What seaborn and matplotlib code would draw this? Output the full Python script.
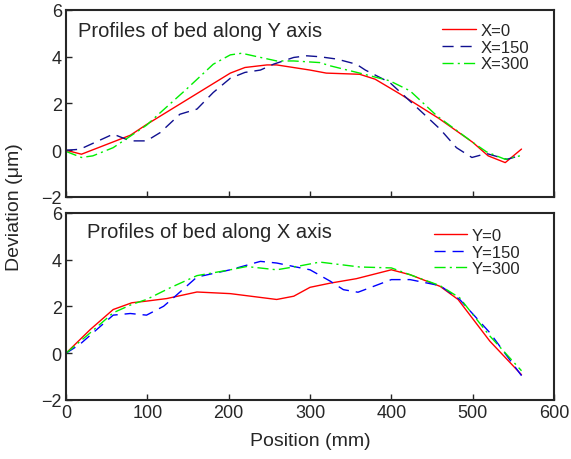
import matplotlib
matplotlib.use("Agg")
import matplotlib.pyplot as plt
import seaborn as sns

# Profiles along Y axis (top panel)
y_x0_pos = [0, 19, 79, 99, 202, 220, 247, 259, 300, 320, 361, 380, 411, 458, 500, 519, 540, 560]
y_x0_dev = [0, -0.17, 0.64, 1.1, 3.3, 3.54, 3.65, 3.65, 3.43, 3.3, 3.25, 3.04, 2.4, 1.37, 0.34, -0.24, -0.53, 0.05]

y_x150_pos = [0, 17, 58, 79, 99, 116, 140, 161, 181, 202, 220, 239, 255, 280, 296, 312, 333, 357, 368, 398, 427, 460, 480, 499, 517, 542, 560]
y_x150_dev = [0, 0.04, 0.69, 0.4, 0.4, 0.76, 1.54, 1.76, 2.47, 3.08, 3.33, 3.43, 3.68, 3.97, 4.04, 4.0, 3.9, 3.68, 3.43, 2.9, 1.97, 0.9, 0.11, -0.31, -0.14, -0.39, -0.21]

y_x300_pos = [0, 19, 33, 58, 79, 99, 116, 148, 181, 202, 216, 234, 259, 280, 312, 325, 361, 398, 423, 456, 500, 517, 540, 558]
y_x300_dev = [-0.05, -0.31, -0.24, 0.11, 0.6, 1.07, 1.61, 2.61, 3.68, 4.08, 4.15, 4.01, 3.82, 3.82, 3.75, 3.61, 3.3, 2.97, 2.54, 1.47, 0.34, -0.07, -0.39, -0.24]

# Profiles along X axis (bottom panel)
x_y0_pos = [0, 30, 58, 81, 99, 124, 161, 202, 259, 280, 300, 325, 357, 400, 423, 460, 482, 521, 560]
x_y0_dev = [0, 1.02, 1.87, 2.16, 2.23, 2.34, 2.62, 2.55, 2.3, 2.44, 2.82, 3.0, 3.19, 3.57, 3.36, 2.86, 2.3, 0.52, -0.92]

x_y150_pos = [0, 17, 58, 79, 99, 120, 132, 161, 202, 239, 259, 280, 300, 325, 341, 359, 400, 423, 460, 484, 521, 560]
x_y150_dev = [0, 0.38, 1.63, 1.7, 1.63, 2.01, 2.37, 3.26, 3.57, 3.93, 3.86, 3.71, 3.57, 3.08, 2.72, 2.61, 3.15, 3.15, 2.89, 2.3, 0.88, -0.96]

x_y300_pos = [0, 30, 58, 81, 99, 128, 161, 202, 222, 259, 288, 312, 361, 400, 460, 484, 521, 560]
x_y300_dev = [0, 0.88, 1.73, 2.09, 2.3, 2.8, 3.32, 3.57, 3.71, 3.57, 3.74, 3.9, 3.69, 3.65, 2.89, 2.37, 0.74, -0.75]

sns.set_style("ticks")
plt.rcParams['font.family'] = ['Liberation Sans', 'DejaVu Sans']

fig = plt.figure(figsize=(5.71, 4.60), dpi=100)
ax1 = fig.add_axes([0.1156, 0.5696, 0.8547, 0.4065])
ax2 = fig.add_axes([0.1156, 0.1283, 0.8547, 0.4065])

red = "#ff0000"
green = "#00ee00"

sns.lineplot(x=y_x0_pos, y=y_x0_dev, ax=ax1, color=red, lw=1.0, label="X=0", sort=False)
sns.lineplot(x=y_x150_pos, y=y_x150_dev, ax=ax1, color="#101090", lw=1.0, label="X=150",
             sort=False, linestyle=(0, (8, 5)))
sns.lineplot(x=y_x300_pos, y=y_x300_dev, ax=ax1, color=green, lw=1.0, label="X=300",
             sort=False, linestyle=(0, (8, 3, 1.5, 3)))

sns.lineplot(x=x_y0_pos, y=x_y0_dev, ax=ax2, color=red, lw=1.0, label="Y=0", sort=False)
sns.lineplot(x=x_y150_pos, y=x_y150_dev, ax=ax2, color="#0000ff", lw=1.0, label="Y=150",
             sort=False, linestyle=(0, (8, 5)))
sns.lineplot(x=x_y300_pos, y=x_y300_dev, ax=ax2, color=green, lw=1.0, label="Y=300",
             sort=False, linestyle=(0, (8, 3, 1.5, 3)))

for ax in (ax1, ax2):
    ax.set_xlim(0, 600)
    ax.set_ylim(-2, 6)
    ax.set_yticks([-2, 0, 2, 4, 6])
    ax.set_xticks([0, 100, 200, 300, 400, 500, 600])
    ax.tick_params(direction='in', length=4, width=1, labelsize=13, pad=3)
    for s in ax.spines.values():
        s.set_visible(True)
        s.set_linewidth(1.5)
    ax.set_xlabel("")
    ax.set_ylabel("")

ax1.tick_params(labelbottom=False)

ax1.text(0.025, 0.89, "Profiles of bed along Y axis", transform=ax1.transAxes,
         fontsize=14.5, va='center', ha='left')
ax2.text(0.043, 0.90, "Profiles of bed along X axis", transform=ax2.transAxes,
         fontsize=14.5, va='center', ha='left')

ax1.legend(loc='upper right', bbox_to_anchor=(0.98, 1.01), frameon=False, fontsize=12,
           handlelength=2.0, handletextpad=0.3, labelspacing=0.1)
ax2.legend(loc='upper right', bbox_to_anchor=(0.962, 1.0), frameon=False, fontsize=12,
           handlelength=2.0, handletextpad=0.3, labelspacing=0.1)

ax2.set_xlabel("Position (mm)", fontsize=14, labelpad=8)
fig.text(0.026, 0.55, "Deviation (\u03bcm)", rotation=90, fontsize=14, va='center', ha='center')

fig.savefig("out.png", dpi=100)
